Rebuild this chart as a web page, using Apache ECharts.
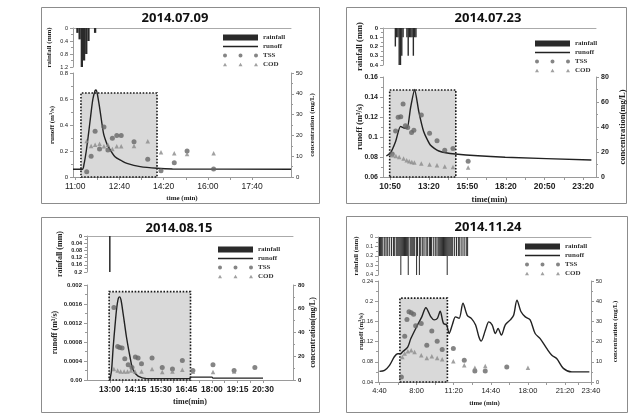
<!DOCTYPE html>
<html>
<head>
<meta charset="utf-8">
<script src="https://cdn.jsdelivr.net/npm/echarts@6/dist/echarts.min.js"></script>
<style>
  html, body { margin: 0; padding: 0; background: #fff; }
  #chart { width: 638px; height: 414px; }
</style>
</head>
<body>
<div id="chart"></div>
<script>
// ---- 2014.07.09 ----
const p1TimeLabels = ['11:00', '12:40', '14:20', '16:00', '17:40']
const p1RainTime = ['11:05', '11:10', '11:15', '11:20', '11:25', '11:30', '11:45']
const p1Rain = [0.15, 0.35, 1.2, 1.0, 0.8, 0.4, 0.15]
const p1RunoffTime = ['10:55', '11:16', '11:20', '11:25', '11:30', '11:35', '11:40', '11:45', '11:47', '11:50', '11:56', '12:04', '12:10', '12:15', '12:30', '12:45', '12:57', '13:27', '14:05', '14:40', '19:08']
const p1Runoff = [0.06, 0.06, 0.1, 0.2, 0.33, 0.47, 0.6, 0.665, 0.67, 0.64, 0.515, 0.336, 0.27, 0.233, 0.156, 0.125, 0.105, 0.08, 0.067, 0.062, 0.06]
const p1SampleTime = ['11:26', '11:36', '11:45', '11:55', '12:05', '12:14', '12:24', '12:34', '12:44', '13:13', '13:44', '14:14', '14:44', '15:13', '16:13']
const p1Tss = [2.5, 10, 22, 13.5, 24, 13, 18.6, 20, 20, 17, 8.5, 3, 6.9, 12.5, 3.8]
const p1Cod = [17.3, 14.9, 15.5, 16, 14.8, 15.5, 13.5, 14.8, 14.8, 14.9, 17.2, 11.9, 11.4, 11, 11.4]
const p1BoxTime = ['11:13', '14:05']
const p1BoxRunoff = [0, 0.646]

// ---- 2014.07.23 ----
const p2TimeLabels = ['10:50', '13:20', '15:50', '18:20', '20:50', '23:20']
const p2RainTime = ['11:10', '11:15', '11:20', '11:25', '11:30', '11:35', '11:40', '11:55', '12:00', '12:05', '12:10', '12:15', '12:20', '12:25', '12:30']
const p2Rain = [0.2, 0.1, 0.1, 0.4, 0.4, 0.3, 0.1, 0.1, 0.3, 0.1, 0.1, 0.1, 0.3, 0.1, 0.1]
const p2RunoffTime = ['10:35', '10:51', '11:11', '11:30', '11:43', '11:56', '12:09', '12:25', '12:41', '13:00', '13:26', '13:59', '15:03', '18:17', '23:52']
const p2Runoff = [0.081, 0.084, 0.0955, 0.1106, 0.109, 0.109, 0.129, 0.1475, 0.1257, 0.1056, 0.092, 0.086, 0.083, 0.0798, 0.077]
const p2TssTime = ['10:58', '11:11', '11:21', '11:31', '11:40', '11:49', '11:58', '12:13', '12:22', '12:51', '13:23', '13:52', '14:22', '14:54', '15:53']
const p2Tss = [18.5, 36.8, 47.8, 48.3, 58.5, 41, 39.7, 35.7, 37.5, 49.7, 35, 29, 21.5, 22.8, 12.6]
const p2CodTime = ['11:00', '11:12', '11:25', '11:42', '11:54', '12:04', '12:14', '12:24', '12:51', '13:23', '13:52', '14:22', '14:54', '15:53']
const p2Cod = [17.5, 16.9, 16.1, 14.8, 13.4, 12.6, 12, 11.6, 10.8, 10, 9.4, 8.4, 8, 7.6]
const p2BoxTime = ['10:48', '15:05']
const p2BoxRunoff = [0.06, 0.147]

// ---- 2014.08.15 ----
const p3TimeLabels = ['13:00', '14:15', '15:30', '16:45', '18:00', '19:15', '20:30']
const p3RainTime = ['13:00']
const p3Rain = [0.2]
const p3RunoffTime = ['13:00', '13:05', '13:10', '13:15', '13:20', '13:25', '13:29', '13:33', '13:39', '13:44', '13:49', '13:59', '14:08', '14:23', '14:48', '16:55', '16:57', '18:00', '18:03', '20:30']
const p3Runoff = [0, 0.0002, 0.0007, 0.00112, 0.0015, 0.00172, 0.00175, 0.00168, 0.0014, 0.00115, 0.0009, 0.0005, 0.00022, 0.00008, 0.00003, 0.00003, 0.00006, 0.00006, 0.00004, 0.00004]
const p3TssTime = ['13:12', '13:23', '13:29', '13:36', '13:44', '13:54', '14:05', '14:15', '14:23', '14:33', '15:04', '15:34', '16:04', '16:33', '17:04', '18:03', '19:05', '20:06']
const p3Tss = [61, 28.2, 27.4, 26.9, 17.9, 12.9, 10.6, 19.3, 18.5, 13.7, 18.5, 10.6, 9.2, 16.5, 8.1, 12.9, 8.1, 10.6]
const p3CodTime = ['13:12', '13:23', '13:32', '13:42', '13:52', '14:02', '14:14', '14:33', '15:04', '15:34', '16:04', '16:33', '17:04', '18:03', '19:05']
const p3Cod = [9.2, 8.1, 7.2, 7.2, 7.2, 8.1, 7.2, 7.2, 9.2, 6.7, 7.2, 8.6, 7, 6.7, 7.2]
const p3BoxTime = ['12:58', '16:57']
const p3BoxRunoff = [0, 0.00186]

// ---- 2014.11.24 ----
const p4TimeLabels = ['4:40', '8:00', '11:20', '14:40', '18:00', '21:20', '23:40']
const p4RainStart = '04:40'
const p4RainStep = 5 // minutes per rainfall record
const p4Rain = [
  0.2, 0.2, 0.2, 0.2, 0, 0.2, 0.2, 0, 0.2, 0.2, 0, 0.2, 0, 0.2, 0, 0.2, 0.2, 0,
  0.2, 0.2, 0.2, 0.2, 0.2, 0.4, 0.2, 0.2, 0.2, 0.2, 0.2, 0.2, 0.2, 0.4, 0, 0.2,
  0.2, 0.2, 0.2, 0.2, 0.2, 0, 0.4, 0.2, 0, 0.4, 0.2, 0, 0.2, 0.2, 0, 0.2, 0, 0.2,
  0.2, 0, 0.2, 0.2, 0.2, 0, 0.2, 0, 0.2, 0.2, 0, 0.2, 0.2, 0.2, 0.2, 0.2, 0.2, 0.2,
  0.2, 0.2, 0.2, 0.4, 0.2, 0.2, 0.2, 0.2, 0.2, 0.2, 0, 0.2, 0, 0.2, 0, 0.2, 0.2, 0,
  0.2, 0, 0.2, 0, 0.2, 0, 0.2, 0.2
]
const p4RunoffTime = ['04:40', '05:07', '05:34', '06:00', '06:18', '06:33', '06:45', '07:12', '07:29', '08:05', '08:28', '08:50', '09:17', '09:35', '09:52', '10:07', '10:25', '10:42', '10:55', '11:13', '11:30', '11:49', '12:10', '12:33', '12:55', '13:18', '13:36', '13:48', '14:11', '14:29', '14:47', '15:05', '15:19', '15:37', '15:58', '16:25', '16:43', '17:01', '17:23', '17:46', '18:12', '18:39', '19:06', '19:42', '20:09', '20:36', '21:11', '21:56', '22:59', '23:31']
const p4Runoff = [0.061, 0.063, 0.073, 0.09, 0.096, 0.096, 0.1, 0.109, 0.126, 0.153, 0.169, 0.187, 0.169, 0.163, 0.166, 0.18, 0.156, 0.153, 0.136, 0.154, 0.169, 0.166, 0.196, 0.172, 0.166, 0.153, 0.129, 0.121, 0.143, 0.159, 0.153, 0.136, 0.146, 0.133, 0.153, 0.163, 0.172, 0.202, 0.179, 0.169, 0.163, 0.136, 0.126, 0.106, 0.093, 0.086, 0.067, 0.06, 0.06, 0.06]
const p4TssTime = ['06:38', '06:56', '07:08', '07:19', '07:31', '07:44', '07:55', '08:25', '08:55', '09:22', '09:51', '10:18', '11:18', '12:17', '13:14', '14:10', '16:06']
const p4Tss = [2.5, 22.7, 31, 34.8, 34.3, 33.6, 27.8, 29, 18.2, 25.3, 20.2, 16.1, 16.6, 10.8, 5.5, 5.5, 7.4]
const p4CodTime = ['06:43', '06:56', '07:13', '07:31', '07:49', '08:25', '08:55', '09:22', '09:51', '10:18', '11:18', '12:17', '13:14', '14:10', '18:00']
const p4Cod = [12.4, 14.1, 15.2, 15.7, 14.9, 13.3, 11.9, 12.8, 11.9, 11.3, 10.3, 8.3, 7.1, 7.9, 7.1]
const p4BoxTime = ['06:30', '10:46']
const p4BoxRunoff = [0.04, 0.206]

function toMin(s) {
  const [h, m] = s.split(':').map(Number)
  return h * 60 + m
}
function clock(v) {
  const h = Math.floor(v / 60)
  const m = Math.round(v - h * 60)
  return h + ':' + String(m).padStart(2, '0')
}
function pairs(times, vals) {
  return times.map((t, i) => [toMin(t), vals[i]])
}
const p4RainTime = p4Rain.map((_, i) => clock(toMin(p4RainStart) + i * p4RainStep))

const panels = [
  {
    title: '2014.07.09', titleX: 175, titleY: 12, border: [41.5, 7.5, 278, 196],
    main: { left: 73, right: 347, top: 73, bottom: 237 }, rain: { top: 28, bottom: 347 },
    xMin: 655, xMax: 1148, labels: p1TimeLabels, barW: 2.3,
    runoffAxis: { min: 0, max: 0.8, interval: 0.2 }, concAxis: { max: 50, interval: 10 }, rainAxis: { max: 1.2, interval: 0.4 },
    rainData: pairs(p1RainTime, p1Rain), runoff: pairs(p1RunoffTime, p1Runoff),
    tss: pairs(p1SampleTime, p1Tss), cod: pairs(p1SampleTime, p1Cod),
    box: [p1BoxTime, p1BoxRunoff], smooth: 0.3,
    xName: 'time (min)', yName: 'runoff (m³/s)', cName: 'concentration (mg/L)',
    gaps: { rain: 20, runoff: 17, conc: 18, time: 18 }, nameSize: 7, xFont: 8.5, yFont: 6, rFont: 5.5, bold: 'normal',
    legend: { left: 223, top: 34 }
  },
  {
    title: '2014.07.23', titleX: 488, titleY: 12, border: [346.5, 7.5, 280, 196],
    main: { left: 383, right: 42, top: 77, bottom: 237 }, rain: { top: 28, bottom: 349 },
    xMin: 622, xMax: 1450, labels: p2TimeLabels, barW: 1.4,
    runoffAxis: { min: 0.06, max: 0.16, interval: 0.02 }, concAxis: { max: 80, interval: 20 }, rainAxis: { max: 0.4, interval: 0.1 },
    rainData: pairs(p2RainTime, p2Rain), runoff: pairs(p2RunoffTime, p2Runoff),
    tss: pairs(p2TssTime, p2Tss), cod: pairs(p2CodTime, p2Cod),
    box: [p2BoxTime, p2BoxRunoff], smooth: 0.2,
    xName: 'time(min)', yName: 'runoff (m³/s)', cName: 'concentration(mg/L)',
    gaps: { rain: 19, runoff: 19, conc: 22, time: 18 }, nameSize: 8.5, xFont: 8.5, yFont: 7, rFont: 6, bold: 'bold',
    legend: { left: 535, top: 40 }
  },
  {
    title: '2014.08.15', titleX: 179, titleY: 222, border: [41.5, 217.5, 278, 195],
    main: { left: 87, right: 345, top: 285, bottom: 34 }, rain: { top: 236, bottom: 142 },
    xMin: 713, xMax: 1318, labels: p3TimeLabels, barW: 1.5,
    runoffAxis: { min: 0, max: 0.002, interval: 0.0004 }, concAxis: { max: 80, interval: 20 }, rainAxis: { max: 0.2, interval: 0.04 },
    rainData: pairs(p3RainTime, p3Rain), runoff: pairs(p3RunoffTime, p3Runoff),
    tss: pairs(p3TssTime, p3Tss), cod: pairs(p3CodTime, p3Cod),
    box: [p3BoxTime, p3BoxRunoff], smooth: 0.3,
    xName: 'time(min)', yName: 'runoff (m³/s)', cName: 'concentration(mg/L)',
    gaps: { rain: 23, runoff: 28, conc: 16, time: 18 }, nameSize: 8, xFont: 8.5, yFont: 6, rFont: 5.5, bold: 'bold',
    legend: { left: 218, top: 246 }
  },
  {
    title: '2014.11.24', titleX: 488, titleY: 221, border: [346.5, 216.5, 281, 196],
    main: { left: 378, right: 47, top: 281, bottom: 32 }, rain: { top: 237, bottom: 139 },
    xMin: 272, xMax: 1420, labels: p4TimeLabels, barW: 0.8,
    runoffAxis: { min: 0.04, max: 0.24, interval: 0.04 }, concAxis: { max: 50, interval: 10 }, rainAxis: { max: 0.4, interval: 0.1 },
    rainData: pairs(p4RainTime, p4Rain), runoff: pairs(p4RunoffTime, p4Runoff),
    tss: pairs(p4TssTime, p4Tss), cod: pairs(p4CodTime, p4Cod),
    box: [p4BoxTime, p4BoxRunoff], smooth: 0.3,
    xName: 'time (min)', yName: 'runoff (m³/s)', cName: 'concentration (mg/L)',
    gaps: { rain: 18, runoff: 13, conc: 21, time: 18 }, nameSize: 6.8, xFont: 7.5, yFont: 5.5, rFont: 5, bold: 'normal',
    legend: { left: 525, top: 243 }
  }
]

const threeCircles = 'path://M0,2a2,2 0 1,0 4,0a2,2 0 1,0 -4,0Z M15.5,2a2,2 0 1,0 4,0a2,2 0 1,0 -4,0Z M31,2a2,2 0 1,0 4,0a2,2 0 1,0 -4,0Z'
const threeTriangles = 'path://M0,3.5L2,0L4,3.5Z M15.5,3.5L17.5,0L19.5,3.5Z M31,3.5L33,0L35,3.5Z'
const thinLine = 'path://M0,0H35V1.3H0Z'

const axisColor = '#9a9a9a'
const serif = 'Liberation Serif'
const sans = 'Liberation Sans'

const option = {
  animation: false,
  backgroundColor: '#fff',
  title: [], legend: [], grid: [], xAxis: [], yAxis: [], series: [], graphic: []
}

panels.forEach((p, i) => {
  const nameStyle = { fontFamily: serif, fontWeight: 'bold', fontSize: p.nameSize, color: '#222' }
  const tickStyle = { color: axisColor }
  const mainX = i * 2
  const rainX = i * 2 + 1
  const yRun = i * 3
  const yConc = i * 3 + 1
  const yRain = i * 3 + 2
  const labelVals = p.labels.map(toMin)
  const tickVals = []
  labelVals.forEach((v, k) => {
    tickVals.push(v)
    if (k < labelVals.length - 1) tickVals.push((v + labelVals[k + 1]) / 2)
  })

  option.graphic.push({
    type: 'rect', silent: true, z: -10,
    shape: { x: p.border[0], y: p.border[1], width: p.border[2], height: p.border[3] },
    style: { fill: 'none', stroke: '#8c8c8c', lineWidth: 1 }
  })

  option.title.push({
    text: p.title, left: p.titleX, top: p.titleY, textAlign: 'center', padding: 0,
    textStyle: { fontFamily: 'Noto Sans', fontWeight: 'bold', fontSize: 13, color: '#111' }
  })

  option.legend.push({
    left: p.legend.left, top: p.legend.top, orient: 'vertical', padding: 0,
    itemWidth: 35, itemHeight: 6, itemGap: 2, selectedMode: false,
    textStyle: { fontFamily: serif, fontWeight: 'bold', fontSize: 7, color: '#333' },
    data: [
      { name: 'rainfall', icon: 'rect' },
      { name: 'runoff', icon: thinLine },
      { name: 'TSS', icon: threeCircles },
      { name: 'COD', icon: threeTriangles }
    ]
  })

  option.grid.push({ left: p.main.left, right: p.main.right, top: p.main.top, bottom: p.main.bottom, containLabel: false, outerBoundsMode: 'none' })
  option.grid.push({ left: p.main.left, right: p.main.right, top: p.rain.top, bottom: p.rain.bottom, containLabel: false, outerBoundsMode: 'none' })

  option.xAxis.push({
    gridIndex: mainX, type: 'value', min: p.xMin, max: p.xMax, position: 'bottom',
    axisLine: { onZero: false, lineStyle: tickStyle },
    axisTick: { customValues: tickVals, length: 3, lineStyle: tickStyle },
    axisLabel: { customValues: labelVals, formatter: clock, fontFamily: sans, fontWeight: p.bold, fontSize: p.xFont, color: '#222', margin: 5 },
    splitLine: { show: false },
    name: p.xName, nameLocation: 'middle', nameGap: p.gaps.time, nameTextStyle: nameStyle, nameMoveOverlap: false
  })
  option.xAxis.push({
    gridIndex: rainX, type: 'value', min: p.xMin, max: p.xMax, position: 'top',
    axisLine: { onZero: false, lineStyle: { color: '#aaa' } },
    axisTick: { show: false }, axisLabel: { show: false }, splitLine: { show: false }
  })

  const yCommon = {
    type: 'value',
    axisLine: { show: true, lineStyle: tickStyle },
    axisTick: { show: true, length: 3, lineStyle: tickStyle },
    minorTick: { show: true, splitNumber: 2, length: 2, lineStyle: tickStyle },
    splitLine: { show: false },
    nameLocation: 'middle', nameRotate: 90, nameTextStyle: nameStyle, nameMoveOverlap: false
  }
  option.yAxis.push(Object.assign({}, yCommon, {
    gridIndex: mainX, position: 'left',
    min: p.runoffAxis.min, max: p.runoffAxis.max, interval: p.runoffAxis.interval,
    axisLabel: {
      fontFamily: sans, fontWeight: p.bold, fontSize: p.yFont, color: '#222', margin: 5,
      formatter: (v) => (i === 2 && v === 0 ? '0.00' : String(+v.toFixed(5)))
    },
    name: p.yName, nameGap: p.gaps.runoff
  }))
  option.yAxis.push(Object.assign({}, yCommon, {
    gridIndex: mainX, position: 'right',
    min: 0, max: p.concAxis.max, interval: p.concAxis.interval,
    axisLabel: { fontFamily: sans, fontWeight: p.bold, fontSize: p.yFont, color: '#222', margin: 5 },
    name: p.cName, nameGap: p.gaps.conc
  }))
  option.yAxis.push(Object.assign({}, yCommon, {
    gridIndex: rainX, position: 'left', inverse: true,
    min: 0, max: p.rainAxis.max, interval: p.rainAxis.interval,
    axisLabel: {
      fontFamily: sans, fontWeight: p.bold, fontSize: p.rFont, color: '#222', margin: 5,
      formatter: (v) => String(+v.toFixed(3))
    },
    name: 'rainfall (mm)', nameGap: p.gaps.rain
  }))

  option.series.push({
    type: 'bar', name: 'rainfall', xAxisIndex: rainX, yAxisIndex: yRain,
    data: p.rainData, barWidth: p.barW, silent: true,
    itemStyle: { color: '#2a2a2a' }
  })
  option.series.push({
    type: 'line', name: 'runoff', xAxisIndex: mainX, yAxisIndex: yRun,
    data: p.runoff, symbol: 'none', showSymbol: false, smooth: p.smooth, z: 3, silent: true,
    lineStyle: { color: '#222', width: 1.4 }, itemStyle: { color: '#222' },
    markArea: {
      silent: true,
      itemStyle: { color: '#d9d9d9', borderColor: '#1a1a1a', borderWidth: 1.6, borderType: 'dotted' },
      data: [[
        { xAxis: toMin(p.box[0][0]), yAxis: p.box[1][0] },
        { xAxis: toMin(p.box[0][1]), yAxis: p.box[1][1] }
      ]]
    }
  })
  option.series.push({
    type: 'scatter', name: 'TSS', xAxisIndex: mainX, yAxisIndex: yConc,
    data: p.tss, symbol: 'circle', symbolSize: 5, z: 4, silent: true,
    itemStyle: { color: '#666' }
  })
  option.series.push({
    type: 'scatter', name: 'COD', xAxisIndex: mainX, yAxisIndex: yConc,
    data: p.cod, symbol: 'triangle', symbolSize: 4.5, z: 4, silent: true,
    itemStyle: { color: '#8a8a8a' }
  })
})

const chart = echarts.init(document.getElementById('chart'))
chart.setOption(option)
</script>
</body>
</html>
